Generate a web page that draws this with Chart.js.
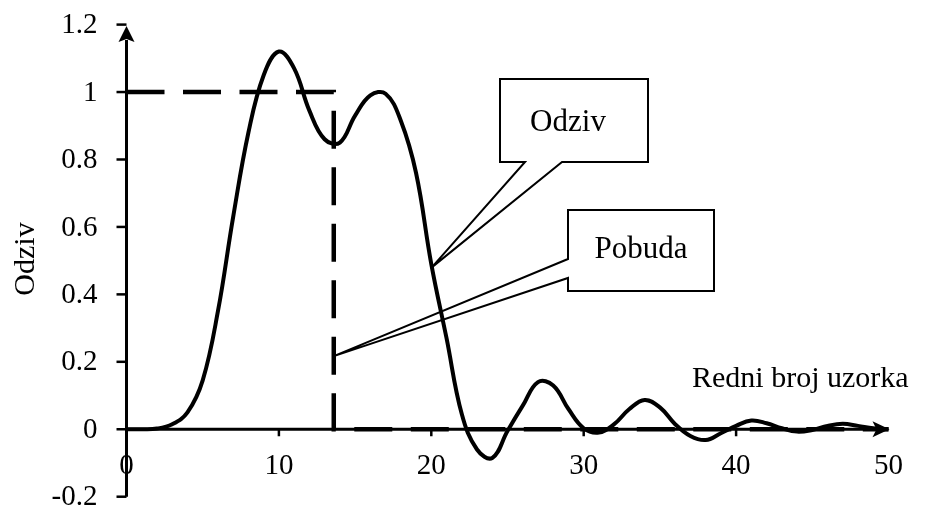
<!DOCTYPE html>
<html>
<head>
<meta charset="utf-8">
<script src="https://cdn.jsdelivr.net/npm/chart.js@4.4.1/dist/chart.umd.min.js"></script>
<style>
  html, body { margin: 0; padding: 0; background: #fff; }
  #wrap { width: 927px; height: 506px; position: relative; }
</style>
</head>
<body>
<div id="wrap"><canvas id="odziv-chart"></canvas></div>
<script>
  // sample index (x) and response values
  const sampleX = [0, 1, 2, 3, 4, 5, 6, 7, 8, 9, 10, 11, 12, 13, 14, 15, 16, 17, 18, 19, 20, 21, 22, 23, 24,
    25, 26, 27, 28, 29, 30, 31, 32, 33, 34, 35, 36, 37, 38, 39, 40, 41, 42, 43, 44, 45, 46, 47, 48, 49, 50];
  const odzivY = [0, 0, 0.002, 0.015, 0.05, 0.145, 0.35, 0.63, 0.88, 1.05, 1.12, 1.07, 0.945, 0.86, 0.85, 0.93, 0.99, 0.995, 0.915, 0.76, 0.49, 0.27, 0.045, -0.06, -0.085,
    -0.005, 0.07, 0.14, 0.13, 0.06, 0.003, -0.01, 0.015, 0.06, 0.087, 0.065, 0.015, -0.02, -0.032, -0.012, 0.01, 0.026, 0.018, 0.003, -0.007, -0.002, 0.01, 0.016, 0.01, 0.003, 0];

  // excitation (pobuda): rectangular pulse
  const pobudaX = [0, 13.6, 13.6, 50];
  const pobudaY = [1, 1, 0, 0];

  const xTicks = [0, 10, 20, 30, 40, 50];
  const yTicks = [-0.2, 0, 0.2, 0.4, 0.6, 0.8, 1, 1.2];
  const yTickLabels = ['-0.2', '0', '0.2', '0.4', '0.6', '0.8', '1', '1.2'];

  const xTitle = 'Redni broj uzorka';
  const yTitle = 'Odziv';
  const odzivLabel = 'Odziv';
  const pobudaLabel = 'Pobuda';
  // callout tips, in data units
  const odzivTip = [20.03, 0.48];
  const pobudaTip = [13.6, 0.217];

  const FONT = '"Liberation Serif", "Times New Roman", serif';

  const toPoints = (xs, ys) => xs.map((x, i) => ({ x: x, y: ys[i] }));

  const axesPlugin = {
    id: 'handAxes',
    beforeDatasetsDraw(chart) {
      const c = chart.ctx;
      const xs = chart.scales.x, ys = chart.scales.y;
      const x0 = xs.getPixelForValue(0);
      const y0 = ys.getPixelForValue(0);
      const yBottom = ys.getPixelForValue(-0.2);
      const xEnd = xs.getPixelForValue(50);
      c.save();
      c.strokeStyle = '#000';
      c.fillStyle = '#000';
      c.lineWidth = 3;
      // y axis
      c.beginPath();
      c.moveTo(x0, yBottom);
      c.lineTo(x0, 40);
      c.stroke();
      c.beginPath();
      c.moveTo(x0, 26);
      c.lineTo(x0 - 8, 42);
      c.lineTo(x0, 39);
      c.lineTo(x0 + 8, 42);
      c.closePath();
      c.fill();
      // x axis
      c.beginPath();
      c.moveTo(x0, y0);
      c.lineTo(xEnd - 6, y0);
      c.stroke();
      c.beginPath();
      c.moveTo(xEnd + 1, y0);
      c.lineTo(xEnd - 16, y0 - 8);
      c.lineTo(xEnd - 12, y0);
      c.lineTo(xEnd - 16, y0 + 8);
      c.closePath();
      c.fill();
      // y ticks + labels
      c.lineWidth = 2.5;
      c.font = '29px ' + FONT;
      c.textAlign = 'right';
      c.textBaseline = 'middle';
      yTicks.forEach((v, i) => {
        const py = ys.getPixelForValue(v);
        c.beginPath();
        c.moveTo(x0 - 10, py);
        c.lineTo(x0, py);
        c.stroke();
        c.fillText(yTickLabels[i], x0 - 29, py + 1);
      });
      // x ticks + labels
      c.textAlign = 'center';
      xTicks.forEach(v => {
        const px = xs.getPixelForValue(v);
        if (v > 0 && v < 50) {
          c.beginPath();
          c.moveTo(px, y0);
          c.lineTo(px, y0 + 7);
          c.stroke();
        }
        c.fillText(String(v), px, y0 + 37);
      });
      c.restore();
    },
    afterDatasetsDraw(chart) {
      const c = chart.ctx;
      const xs = chart.scales.x, ys = chart.scales.y;
      c.save();
      c.fillStyle = '#000';
      c.strokeStyle = '#000';
      // axis titles
      c.font = '30px ' + FONT;
      c.textAlign = 'left';
      c.textBaseline = 'alphabetic';
      c.fillText(xTitle, 692, 387);
      c.save();
      c.translate(34, 259);
      c.rotate(-Math.PI / 2);
      c.textAlign = 'center';
      c.fillText(yTitle, 0, 0);
      c.restore();

      // callouts
      c.lineWidth = 2;
      c.lineJoin = 'miter';
      const t1x = xs.getPixelForValue(odzivTip[0]), t1y = ys.getPixelForValue(odzivTip[1]);
      c.beginPath();
      c.moveTo(525, 162);
      c.lineTo(500, 162);
      c.lineTo(500, 79);
      c.lineTo(648, 79);
      c.lineTo(648, 162);
      c.lineTo(562, 162);
      c.lineTo(t1x, t1y);
      c.closePath();
      c.stroke();

      const t2x = xs.getPixelForValue(pobudaTip[0]), t2y = ys.getPixelForValue(pobudaTip[1]);
      c.beginPath();
      c.moveTo(568, 259);
      c.lineTo(568, 210);
      c.lineTo(714, 210);
      c.lineTo(714, 291);
      c.lineTo(568, 291);
      c.lineTo(568, 278);
      c.lineTo(t2x, t2y);
      c.closePath();
      c.stroke();

      c.font = '31px ' + FONT;
      c.textAlign = 'center';
      c.fillText(odzivLabel, 568, 131);
      c.fillText(pobudaLabel, 641, 258);
      c.restore();
    }
  };

  new Chart(document.getElementById('odziv-chart'), {
    type: 'line',
    data: {
      datasets: [
        {
          label: 'Odziv',
          data: toPoints(sampleX, odzivY),
          borderColor: '#000',
          borderWidth: 4,
          pointRadius: 0,
          fill: false,
          tension: 0.4,
          clip: false
        },
        {
          label: 'Pobuda',
          data: toPoints(pobudaX, pobudaY),
          borderColor: '#000',
          borderWidth: 4.5,
          borderDash: [38, 18.5],
          pointRadius: 0,
          fill: false,
          tension: 0,
          clip: false
        }
      ]
    },
    options: {
      responsive: true,
      maintainAspectRatio: false,
      animation: false,
      events: [],
      layout: { padding: { left: 126.5, right: 38.5, top: 24.6, bottom: 9.3 } },
      plugins: { legend: { display: false }, tooltip: { enabled: false } },
      scales: {
        x: { type: 'linear', min: 0, max: 50, display: false },
        y: { type: 'linear', min: -0.2, max: 1.2, display: false }
      }
    },
    plugins: [axesPlugin]
  });
</script>
</body>
</html>
